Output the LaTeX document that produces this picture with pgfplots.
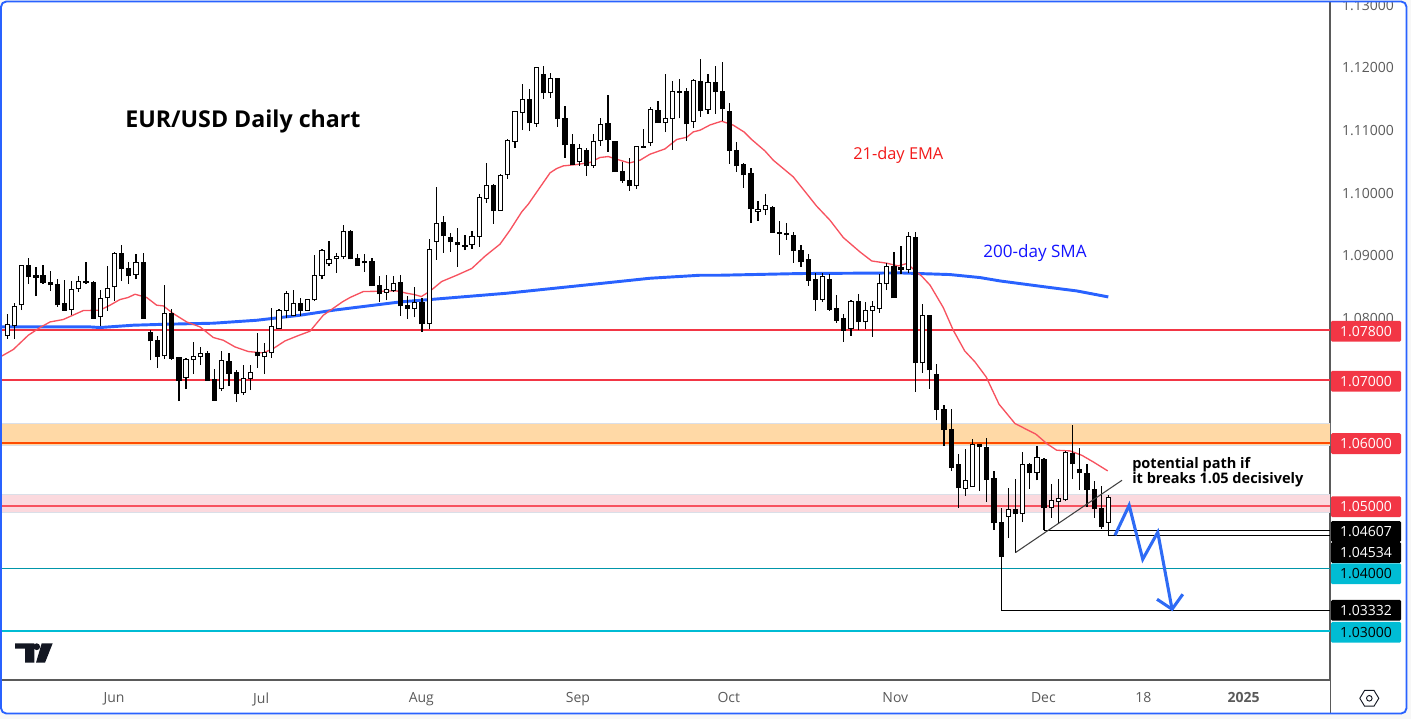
\documentclass[border=0pt]{standalone}
\usepackage{fontspec}
\usepackage{pgfplots}
\usepackage{pgfplotstable}
\pgfplotsset{compat=1.18}
\setmainfont{Open Sans}

\definecolor{tvred}{HTML}{F23645}
\definecolor{tvcyan}{HTML}{00BCD4}
\definecolor{tvblue}{HTML}{2962FF}
\definecolor{tvgrey}{HTML}{5A5A5A}
\definecolor{emared}{HTML}{F7525F}
\definecolor{zoneorange}{HTML}{FFD9A6}
\definecolor{zonepink}{HTML}{FBD9DE}
\definecolor{zoneedge}{HTML}{DADFE8}
\definecolor{pathblue}{HTML}{2E6BF5}
\definecolor{logoink}{HTML}{131722}
\definecolor{notered}{HTML}{F21A1A}
\definecolor{noteblue}{HTML}{1414FF}

% x = candle number, l = low, h = high, b = body bottom, t = body top
\pgfplotstableread{
x l h b t
0 1.07662 1.08056 1.07716 1.07885
1 1.07662 1.08243 1.07870 1.08173
2 1.08120 1.08849 1.08205 1.08833
9 1.08040 1.08583 1.08131 1.08450
10 1.08412 1.08662 1.08460 1.08578
13 1.07876 1.08439 1.08020 1.08300
14 1.08109 1.08822 1.08316 1.08466
15 1.08264 1.09045 1.08492 1.09024
18 1.08614 1.09013 1.08683 1.08881
22 1.07343 1.08519 1.07391 1.08067
25 1.06860 1.07365 1.07040 1.07334
26 1.07099 1.07610 1.07327 1.07381
27 1.07243 1.07530 1.07375 1.07429
30 1.06828 1.07466 1.06865 1.07318
33 1.06769 1.07254 1.06801 1.07031
34 1.06844 1.07243 1.07024 1.07126
36 1.07099 1.07598 1.07375 1.07439
37 1.07359 1.08163 1.07439 1.07860
38 1.07822 1.08136 1.07828 1.08115
39 1.07992 1.08423 1.08115 1.08386
40 1.08020 1.08439 1.08035 1.08227
42 1.08109 1.08300 1.08115 1.08284
43 1.08264 1.08997 1.08284 1.08673
44 1.08614 1.09104 1.08673 1.09072
45 1.08827 1.09221 1.08858 1.08929
46 1.08715 1.09040 1.08938 1.08976
47 1.08945 1.09476 1.08976 1.09375
53 1.08279 1.08689 1.08407 1.08444
54 1.08412 1.08673 1.08428 1.08546
57 1.08008 1.08487 1.08147 1.08243
59 1.07822 1.09252 1.07908 1.09082
60 1.08922 1.10082 1.09216 1.09500
64 1.09077 1.09316 1.09141 1.09157
65 1.09098 1.09380 1.09168 1.09295
66 1.09130 1.09981 1.09295 1.09917
67 1.09831 1.10465 1.09902 1.10109
69 1.09704 1.10289 1.09710 1.10268
70 1.10214 1.10847 1.10284 1.10827
71 1.10709 1.11294 1.10811 1.11289
72 1.10991 1.11725 1.11273 1.11481
74 1.11044 1.12001 1.11098 1.11991
76 1.11506 1.11900 1.11586 1.11816
80 1.10422 1.10768 1.10485 1.10699
82 1.10390 1.10938 1.10428 1.10811
83 1.10741 1.11178 1.10827 1.11075
88 1.10055 1.10736 1.10103 1.10725
89 1.10704 1.11007 1.10723 1.10733
90 1.10736 1.11358 1.10795 1.11321
92 1.10959 1.11884 1.11114 1.11178
93 1.10683 1.11773 1.11178 1.11608
94 1.11178 1.11804 1.11600 1.11608
96 1.11023 1.11804 1.11130 1.11784
98 1.11246 1.11884 1.11321 1.11752
105 1.09544 1.09859 1.09694 1.09726
106 1.09635 1.09970 1.09726 1.09790
114 1.08259 1.08710 1.08291 1.08657
118 1.07710 1.08291 1.07822 1.08259
120 1.07822 1.08259 1.07933 1.08115
121 1.07694 1.08264 1.08115 1.08179
122 1.08077 1.08705 1.08141 1.08546
123 1.08439 1.08881 1.08539 1.08817
126 1.08710 1.09364 1.08763 1.09300
128 1.07120 1.08227 1.07279 1.08035
134 1.05158 1.05914 1.05276 1.05397
135 1.05308 1.06062 1.05308 1.05978
140 1.04488 1.05292 1.04829 1.04941
142 1.04739 1.05866 1.04877 1.05659
144 1.05408 1.05962 1.05531 1.05771
146 1.04807 1.05345 1.04973 1.05085
147 1.04727 1.05436 1.05069 1.05110
148 1.05078 1.05876 1.05094 1.05850
154 1.04534 1.05169 1.04734 1.05126
}\upcandles

\pgfplotstableread{
x l h b t
3 1.08535 1.08949 1.08651 1.08833
4 1.08343 1.08817 1.08646 1.08673
5 1.08546 1.08838 1.08555 1.08673
6 1.08423 1.08742 1.08523 1.08562
7 1.08173 1.08626 1.08205 1.08530
8 1.08109 1.08598 1.08120 1.08227
11 1.08535 1.08886 1.08555 1.08578
12 1.07992 1.08583 1.07992 1.08562
16 1.08583 1.09157 1.08779 1.09024
17 1.08535 1.08890 1.08667 1.08785
19 1.07992 1.09029 1.07992 1.08881
20 1.07322 1.07801 1.07630 1.07769
21 1.07195 1.07710 1.07386 1.07637
23 1.07334 1.08147 1.07354 1.08067
24 1.06669 1.07370 1.07003 1.07370
28 1.07003 1.07477 1.07003 1.07429
29 1.06684 1.07190 1.06684 1.07015
31 1.06908 1.07434 1.07115 1.07307
32 1.06653 1.07174 1.06785 1.07131
35 1.07195 1.07753 1.07391 1.07439
41 1.08024 1.08323 1.08109 1.08227
48 1.08933 1.09396 1.08938 1.09375
49 1.08827 1.09013 1.08833 1.08945
50 1.08731 1.09013 1.08874 1.08897
51 1.08503 1.08960 1.08508 1.08897
52 1.08248 1.08662 1.08380 1.08514
55 1.08029 1.08689 1.08189 1.08562
56 1.07981 1.08343 1.08147 1.08195
58 1.07774 1.08323 1.07901 1.08243
61 1.09034 1.09619 1.09305 1.09519
62 1.09050 1.09353 1.09209 1.09279
63 1.08811 1.09439 1.09161 1.09200
68 1.09496 1.10141 1.09704 1.10109
73 1.10975 1.11645 1.11107 1.11481
75 1.11490 1.12012 1.11586 1.11884
77 1.11044 1.11831 1.11171 1.11816
78 1.10549 1.11385 1.10756 1.11178
79 1.10433 1.10938 1.10449 1.10763
81 1.10262 1.10715 1.10428 1.10667
84 1.10645 1.11549 1.10836 1.11098
85 1.10326 1.10820 1.10326 1.10811
86 1.10150 1.10485 1.10182 1.10337
87 1.10023 1.10540 1.10103 1.10193
91 1.11107 1.11454 1.11107 1.11305
95 1.10820 1.11666 1.11091 1.11608
97 1.11203 1.12123 1.11299 1.11768
99 1.11251 1.12012 1.11608 1.11752
100 1.11135 1.12076 1.11331 1.11608
101 1.10453 1.11433 1.10667 1.11289
102 1.10326 1.10811 1.10422 1.10667
103 1.10071 1.10476 1.10278 1.10444
104 1.09512 1.10385 1.09736 1.10300
107 1.09353 1.09779 1.09364 1.09758
108 1.08997 1.09540 1.09351 1.09359
109 1.09248 1.09519 1.09321 1.09348
110 1.08874 1.09369 1.09066 1.09316
111 1.08811 1.09157 1.08890 1.09072
112 1.08508 1.09013 1.08598 1.08933
113 1.08109 1.08721 1.08295 1.08614
115 1.08109 1.08705 1.08136 1.08614
116 1.07917 1.08370 1.07960 1.08152
117 1.07614 1.08056 1.07801 1.07992
119 1.07801 1.08386 1.07933 1.08264
124 1.08316 1.09045 1.08316 1.08822
125 1.08694 1.09141 1.08763 1.08801
127 1.06817 1.09364 1.07279 1.09284
129 1.06865 1.08040 1.07168 1.08040
130 1.06365 1.07270 1.06541 1.07094
131 1.05956 1.06605 1.06217 1.06541
132 1.05552 1.06541 1.05611 1.06217
133 1.04967 1.05823 1.05286 1.05659
136 1.05233 1.05994 1.05946 1.05983
137 1.05062 1.06090 1.05420 1.05930
138 1.04622 1.05552 1.04727 1.05436
139 1.03332 1.04973 1.04191 1.04734
141 1.04255 1.05436 1.04871 1.04941
143 1.05265 1.05691 1.05525 1.05659
145 1.04607 1.05771 1.04967 1.05743
149 1.05424 1.06286 1.05668 1.05839
150 1.05260 1.05930 1.05525 1.05584
151 1.04983 1.05675 1.05260 1.05515
152 1.04807 1.05393 1.04951 1.05260
153 1.04632 1.05313 1.04664 1.04962
}\downcandles

\begin{document}
\begin{tikzpicture}
\useasboundingbox (0,-29.25pt) rectangle (1058.25pt,510pt);
\begin{axis}[
  at={(0,0)}, anchor=south west,
  scale only axis, width=997.5pt, height=510pt,
  xmin=-1.025, xmax=184.99,
  ymin=1.022225, ymax=1.130678,
  axis x line=bottom, axis y line=right,
  axis line style={-,draw=tvgrey,line width=0.8pt},
  major tick length=0pt,
  clip=true,
  ytick={1.08,1.09,1.10,1.11,1.12,1.13},
  yticklabel style={
    /pgf/number format/fixed,
    /pgf/number format/fixed zerofill,
    /pgf/number format/precision=5,
    /pgf/number format/assume math mode=true,
    font=\fontsize{10.5pt}{12pt}\selectfont,
    text=tvgrey, xshift=5.5pt, yshift=-0.6pt},
  xtick={14.92,35.5,57.9,79.8,100.9,124.2,144.9,158.9,172.9},
  xticklabels={Jun,Jul,Aug,Sep,Oct,Nov,Dec,18,\textbf{2025}},
  xticklabel style={font=\fontsize{10.5pt}{12pt}\selectfont,text=tvgrey,yshift=-6pt},
  every error bar/.append style={line cap=butt},
]
% zones
\addplot[fill=zoneorange,draw=zoneedge,line width=0.6pt] coordinates {(-1.025,1.06316)(184.99,1.06316)(184.99,1.05965)(-1.025,1.05965)} -- cycle;
\addplot[fill=zonepink,draw=zoneedge,line width=0.6pt] coordinates {(-1.025,1.05185)(184.99,1.05185)(184.99,1.04898)(-1.025,1.04898)} -- cycle;
% level lines
\addplot[tvred,line width=1.5pt] coordinates {(-1.025,1.078)(184.99,1.078)};
\addplot[tvred,line width=1.5pt] coordinates {(-1.025,1.07)(184.99,1.07)};
\addplot[color=orange!60!red,line width=1.5pt] coordinates {(-1.025,1.06)(184.99,1.06)};
\addplot[emared,line width=1.5pt] coordinates {(-1.025,1.05)(184.99,1.05)};
\addplot[color=tvcyan!80!black,line width=0.7pt] coordinates {(-1.025,1.04)(184.99,1.04)};
\addplot[tvcyan,line width=1.5pt] coordinates {(-1.025,1.03)(184.99,1.03)};
\addplot[black,line width=0.8pt] coordinates {(145,1.04607)(184.99,1.04607)};
\addplot[black,line width=0.8pt] coordinates {(154,1.04534)(184.99,1.04534)};
\addplot[black,line width=0.8pt] coordinates {(139,1.03332)(184.99,1.03332)};
% 200-day SMA
\addplot[tvblue,line width=2.2pt] coordinates {
(-0.75,1.07854)(3.59,1.07854)(11.56,1.07854)(12.96,1.07844)(17.62,1.07881)(22.29,1.07897)
(28.81,1.07913)(34.88,1.07960)(40.93,1.08040)(45.59,1.08120)(54.92,1.08252)(59.58,1.08295)
(69.84,1.08391)(82.89,1.08546)(89.88,1.08630)(96.88,1.08678)(99.67,1.08678)(110.86,1.08705)
(124.85,1.08715)(131.84,1.08689)(136.04,1.08641)(138.84,1.08587)(145.83,1.08482)
(149.56,1.08428)(153.98,1.08332)};
% 21-day EMA
\addplot[emared,line width=1pt] coordinates {
(-0.75,1.07391)(0.83,1.07493)(2.93,1.07721)(4.57,1.07844)(5.97,1.07933)(7.83,1.07972)
(10.63,1.08115)(12.96,1.08120)(14.36,1.08200)(15.76,1.08291)(16.88,1.08323)(17.86,1.08375)
(19.49,1.08323)(20.89,1.08200)(21.81,1.08189)(23.21,1.08067)(25.09,1.07933)(26.95,1.07854)
(28.81,1.07685)(30.21,1.07641)(31.84,1.07535)(33.70,1.07461)(35.80,1.07439)(37.2,1.07509)
(38.83,1.07630)(40.70,1.07716)(42.33,1.07785)(44.19,1.08040)(46.85,1.08252)(47.93,1.08323)
(49.79,1.08418)(52.12,1.08423)(54.46,1.08428)(55.86,1.08391)(56.92,1.08370)(57.9,1.08338)
(59.11,1.08423)(60.75,1.08578)(62.85,1.08678)(64.95,1.08785)(66.8,1.08981)(68.9,1.09173)
(70.3,1.09396)(71.94,1.09688)(72.86,1.09811)(75.9,1.10310)(76.83,1.10380)(77.76,1.10422)
(79.63,1.10444)(81.49,1.10476)(82.89,1.10556)(84.05,1.10571)(85.69,1.10512)(86.99,1.10469)
(88.48,1.10512)(89.88,1.10608)(91.98,1.10693)(93.62,1.10843)(95.02,1.10879)(95.94,1.10964)
(96.88,1.10991)(98.28,1.11075)(99.91,1.11135)(101.53,1.11071)(103.03,1.10964)(104.1,1.10843)
(105.96,1.10661)(107.13,1.10512)(109.93,1.10246)(113.2,1.09779)(115.06,1.09555)(116.92,1.09279)
(119.25,1.09050)(120.89,1.08906)(122.99,1.08870)(124.6,1.08827)(125.8,1.08865)(127.9,1.08662)
(129.06,1.08519)(130.9,1.08163)(132.3,1.07801)(133.9,1.07471)(135.34,1.07295)(136.9,1.07056)
(138.7,1.06621)(139.4,1.06525)(140.93,1.06313)(143.87,1.06142)(145.37,1.05994)(146.77,1.05887)
(148.63,1.05876)(150.27,1.05807)(151.89,1.05700)(153.91,1.05557)};
% wicks
\addplot[draw=none,no markers,error bars/.cd,y dir=plus,y explicit,error mark=none,
  error bar style={draw=black,line width=0.9pt}]
  table[x=x,y=l,y error plus expr=\thisrow{h}-\thisrow{l}] {\upcandles};
\addplot[draw=none,no markers,error bars/.cd,y dir=plus,y explicit,error mark=none,
  error bar style={draw=black,line width=0.9pt}]
  table[x=x,y=l,y error plus expr=\thisrow{h}-\thisrow{l}] {\downcandles};
% bodies, rising ones are a black bar with a white bar in it
\addplot[draw=none,no markers,error bars/.cd,y dir=plus,y explicit,error mark=none,
  error bar style={draw=black,line width=3.9pt}]
  table[x=x,y expr=\thisrow{b}-0.00008,y error plus expr=\thisrow{t}-\thisrow{b}+0.00016] {\upcandles};
\addplot[draw=none,no markers,error bars/.cd,y dir=plus,y explicit,error mark=none,
  error bar style={draw=white,line width=2.4pt}]
  table[x=x,y expr=\thisrow{b}+0.00008,y error plus expr={max(\thisrow{t}-\thisrow{b}-0.00016,0)}] {\upcandles};
\addplot[draw=none,no markers,error bars/.cd,y dir=plus,y explicit,error mark=none,
  error bar style={draw=black,line width=3.9pt}]
  table[x=x,y expr=\thisrow{b}-0.00008,y error plus expr=\thisrow{t}-\thisrow{b}+0.00016] {\downcandles};
% drawings
\addplot[black!75,line width=0.8pt] coordinates {(141,1.04255)(155.9,1.05408)};
\addplot[pathblue,line width=2.3pt] coordinates {(154.92,1.04531)(156.9,1.05010)(158.8,1.04148)(160.9,1.04579)(162.9,1.03351)};
\addplot[pathblue,line width=2.3pt] coordinates {(160.8,1.03510)(162.9,1.03351)(164.4,1.03590)};
\end{axis}
% from here one unit is one pixel of the reference, y down
\begin{scope}[yshift=510pt,x=0.75pt,y=-0.75pt]
  % text on the chart
  \node[anchor=base west,inner sep=0,font=\fontsize{17.4pt}{20pt}\selectfont\bfseries] at (125,128) {EUR/USD Daily chart};
  \node[anchor=base west,inner sep=0,text=notered,font=\fontsize{12.3pt}{16pt}\selectfont] at (853,160) {21-day EMA};
  \node[anchor=base west,inner sep=0,text=noteblue,font=\fontsize{12.8pt}{16pt}\selectfont] at (983,257.5) {200-day SMA};
  \node[anchor=base west,inner sep=0,font=\fontsize{10.9pt}{12pt}\selectfont\bfseries] at (1132,468.3) {potential path if};
  \node[anchor=base west,inner sep=0,font=\fontsize{10.9pt}{12pt}\selectfont\bfseries] at (1132,483.3) {it breaks 1.05 decisively};
  % price badges
  \foreach \yc/\fc/\tc/\lab in {
    331.2/tvred/white/1.07800, 381.3/tvred/white/1.07000, 443.6/tvred/white/1.06000,
    506.7/tvred/white/1.05000, 531.5/black/white/1.04607, 552.5/black/white/1.04534,
    573.7/tvcyan/black/1.04000, 610.3/black/white/1.03332, 632.3/tvcyan/black/1.03000} {
    \fill[\fc,rounded corners=1] (1331,\yc-10.4) rectangle (1401,\yc+10.4);
    \node[text=\tc,inner sep=0,font=\fontsize{10.5pt}{12pt}\selectfont] at (1366,\yc) {\lab};
  }
  % TradingView mark
  \fill[logoink] (15,643.3) -- (34.3,643.3) -- (34.3,662.7) -- (25,662.7) -- (25,648.5) -- (15,648.5) -- cycle;
  \fill[logoink] (36.7,646.7) circle (3.4);
  \fill[logoink] (41.7,643.3) -- (52.7,643.3) -- (45,662.7) -- (36,662.7) -- cycle;
  % settings icon
  \draw[logoink,line width=0.7pt] (1359.8,698.3) -- (1364.6,690.4) -- (1374,690.4) -- (1378.8,698.3) -- (1374,706.2) -- (1364.6,706.2) -- cycle;
  \draw[logoink,line width=0.7pt] (1369.3,698.3) circle (2.8);
  % frame
  \draw[tvgrey,line width=0.8pt] (1330.3,680) -- (1330.3,713);
  \fill[even odd rule,fill=black!3] (0,0) rectangle (1411,719)
    [rounded corners=4] (1,1.5) rectangle (1406.5,713.5);
  \draw[tvblue,line width=1.4pt,rounded corners=4] (1,1.5) rectangle (1406.5,713.5);
\end{scope}
\end{tikzpicture}
\end{document}
